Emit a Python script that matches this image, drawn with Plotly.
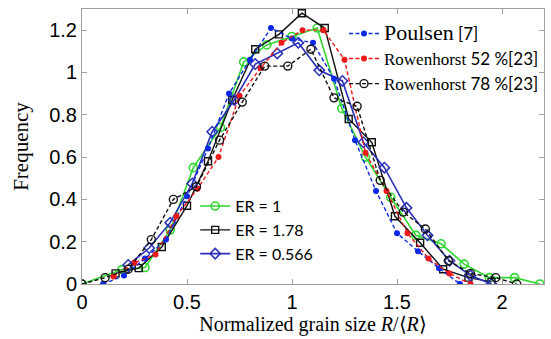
import plotly.graph_objects as go

# ---- data ----
poulsen_x = [0.10, 0.20, 0.30, 0.40, 0.50, 0.60, 0.70, 0.80, 0.90, 1.00, 1.10, 1.20, 1.30, 1.40, 1.50, 1.60, 1.70, 1.80]
poulsen_y = [0.0, 0.04, 0.12, 0.21, 0.415, 0.64, 0.90, 1.06, 1.21, 1.16, 1.14, 0.97, 0.68, 0.44, 0.24, 0.155, 0.075, 0.0]

row52_x = [0.15, 0.25, 0.35, 0.45, 0.55, 0.65, 0.75, 0.85, 0.95, 1.05, 1.15, 1.25, 1.35, 1.45, 1.55, 1.65, 1.75, 1.85]
row52_y = [0.035, 0.10, 0.14, 0.32, 0.45, 0.60, 0.89, 1.02, 1.14, 1.20, 1.20, 1.06, 0.62, 0.44, 0.24, 0.12, 0.05, 0.0]

row78_x = [0.0, 0.11, 0.22, 0.33, 0.435, 0.545, 0.655, 0.763, 0.87, 0.98, 1.09, 1.20, 1.31, 1.42, 1.53, 1.635, 1.745, 1.85, 1.97, 2.07]
row78_y = [0.0, 0.03, 0.07, 0.21, 0.40, 0.46, 0.68, 0.86, 1.03, 1.03, 1.11, 0.88, 0.84, 0.49, 0.34, 0.26, 0.11, 0.05, 0.03, 0.0]

er1_x = [0.0, 0.19, 0.30, 0.42, 0.53, 0.66, 0.77, 0.88, 1.00, 1.12, 1.237, 1.35, 1.47, 1.59, 1.71, 1.82, 1.94, 2.06, 2.18]
er1_y = [0.0, 0.068, 0.078, 0.255, 0.55, 0.74, 1.05, 1.13, 1.17, 1.21, 0.83, 0.60, 0.41, 0.23, 0.19, 0.094, 0.03, 0.03, 0.0]

er178_x = [0.16, 0.27, 0.38, 0.50, 0.60, 0.715, 0.825, 0.938, 1.047, 1.156, 1.27, 1.38, 1.49, 1.61, 1.72, 1.84, 1.95]
er178_y = [0.05, 0.075, 0.175, 0.37, 0.58, 0.87, 1.11, 1.18, 1.28, 1.21, 0.78, 0.67, 0.32, 0.195, 0.07, 0.03, 0.01]

er0566_x = [0.22, 0.32, 0.42, 0.525, 0.62, 0.725, 0.825, 0.93, 1.03, 1.13, 1.24, 1.34, 1.44, 1.545, 1.645, 1.75, 1.85, 1.95]
er0566_y = [0.09, 0.17, 0.29, 0.475, 0.72, 0.87, 1.04, 1.09, 1.14, 1.01, 0.96, 0.67, 0.55, 0.36, 0.23, 0.11, 0.04, 0.0]

x_ticks = [0, 0.5, 1, 1.5, 2]
y_ticks = [0, 0.2, 0.4, 0.6, 0.8, 1, 1.2]

SERIF = "Liberation Serif"
SANS = "Lato"

GREEN = "#2fd62f"
BLUE1 = "#0a28e6"
BLUE2 = "#2a2fb8"
RED = "#ee1a1a"
BLACK = "#111111"

fig = go.Figure()

# ER traces (legend2) drawn first
fig.add_trace(go.Scatter(
    x=er1_x, y=er1_y, mode="lines+markers", name="ER = 1", legend="legend2",
    line=dict(color=GREEN, width=1.6),
    marker=dict(symbol="circle-open", size=8, color=GREEN, line=dict(width=1.6))))
fig.add_trace(go.Scatter(
    x=er178_x, y=er178_y, mode="lines+markers", name="ER = 1.78", legend="legend2",
    line=dict(color=BLACK, width=1.4),
    marker=dict(symbol="square-open", size=7, color=BLACK, line=dict(width=1.4))))
fig.add_trace(go.Scatter(
    x=er0566_x, y=er0566_y, mode="lines+markers", name="ER = 0.566", legend="legend2",
    line=dict(color=BLUE2, width=1.6),
    marker=dict(symbol="diamond-open", size=8, color=BLUE2, line=dict(width=1.5))))

# Experimental traces (legend 1)
fig.add_trace(go.Scatter(
    x=poulsen_x, y=poulsen_y, mode="lines+markers",
    name='<span style="font-family:\'Liberation Serif\';font-size:22px">Poulsen</span> <span style="font-family:Lato;font-size:17px">[7]</span>',
    legend="legend",
    line=dict(color=BLUE1, width=1.4, dash="4px,2.5px"),
    marker=dict(symbol="circle", size=6, color=BLUE1)))
fig.add_trace(go.Scatter(
    x=row52_x, y=row52_y, mode="lines+markers",
    name='Rowenhorst <span style="font-family:Lato">52 %[23]</span>',
    legend="legend",
    line=dict(color=RED, width=1.4, dash="4px,2.5px"),
    marker=dict(symbol="circle", size=6, color=RED)))
fig.add_trace(go.Scatter(
    x=row78_x, y=row78_y, mode="lines+markers",
    name='Rowenhorst <span style="font-family:Lato">78 %[23]</span>',
    legend="legend",
    line=dict(color=BLACK, width=1.4, dash="4px,2.5px"),
    marker=dict(symbol="circle-open", size=8, color=BLACK, line=dict(width=1.4))))

axis_common = dict(
    showline=True, linecolor="#a0a0a0", linewidth=1, mirror="ticks",
    ticks="inside", ticklen=5, tickcolor="#a0a0a0",
    showgrid=False, zeroline=False,
    tickfont=dict(family="Liberation Sans", size=20, color="black"),
)

fig.update_layout(
    width=551, height=339,
    margin=dict(l=82, r=7, t=9, b=55, autoexpand=False),
    paper_bgcolor="white", plot_bgcolor="white",
    xaxis=dict(range=[0, 2.2], tickvals=x_ticks, ticktext=[str(v) for v in x_ticks],
               title=dict(text="Normalized grain size <i>R</i>/⟨<i>R</i>⟩",
                          font=dict(family=SERIF, size=20, color="black"), standoff=1),
               **axis_common),
    yaxis=dict(range=[0, 1.3], tickvals=y_ticks, ticktext=[str(v) for v in y_ticks],
               title=dict(text="Frequency", font=dict(family=SERIF, size=21, color="black"), standoff=14),
               **axis_common),
    legend=dict(x=1.0, y=0.975, xanchor="right", yanchor="top",
                bgcolor="rgba(0,0,0,0)", borderwidth=0,
                font=dict(family=SERIF, size=17, color="black"),
                itemwidth=30, tracegroupgap=0),
    legend2=dict(x=0.245, y=0.345, xanchor="left", yanchor="top",
                 bgcolor="rgba(0,0,0,0)", borderwidth=0,
                 font=dict(family=SANS, size=16, color="black"),
                 itemwidth=30, tracegroupgap=0),
    showlegend=True,
)

fig.write_html("out.html")
